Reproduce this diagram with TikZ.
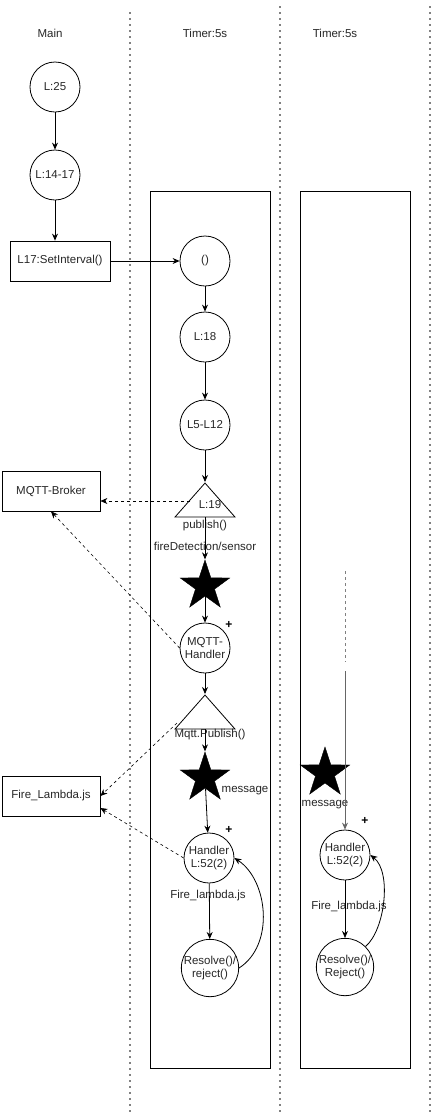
\documentclass[tikz,border=0pt]{standalone}
\usepackage{fontspec}
\setmainfont{Liberation Sans}
\usetikzlibrary{shapes.geometric,arrows.meta}
\begin{document}
\begin{tikzpicture}[x=1pt,y=-1pt,
  every node/.style={font=\fontsize{11.5}{13}\selectfont, text=black!85},
  circ/.style={draw, circle, minimum size=50pt, inner sep=0pt, align=center, line width=0.8pt},
  box/.style={draw, rectangle, minimum width=98pt, minimum height=40pt, inner sep=0pt, line width=0.8pt},
  tri/.style={draw, isosceles triangle, shape border rotate=90, isosceles triangle stretches, minimum width=60pt, minimum height=34pt, inner sep=0pt, anchor=apex, line width=0.8pt},
  starshape/.style={draw, fill=black, star, star points=5, star point ratio=2.6, minimum size=52pt, inner sep=0pt},
  arr/.style={-{Stealth[length=7pt,width=6pt]}, line width=0.8pt},
  darr/.style={-{Stealth[length=7pt,width=6pt]}, line width=0.6pt, dash pattern=on 3pt off 3pt},
  sep/.style={line width=1.6pt, dash pattern=on 0pt off 6pt, line cap=round},
  lbl/.style={inner sep=1pt}]
\useasboundingbox (0,0) rectangle (433,1114);
% separators
\draw[sep] (130,13) -- (130,1114);
\draw[sep] (280,7) -- (280,1114);
\draw[sep] (430,7) -- (430,1114);
% titles
\node[lbl] (tmain) at (50,33) {Main};
\node[lbl] (tt1) at (205,33) {Timer:5s};
\node[lbl] (tt2) at (335,33) {Timer:5s};
% containers
\draw[line width=0.8pt] (150,191) rectangle (270,1068);
\draw[line width=0.8pt] (300,191) rectangle (410,1068);
% main column
\node[circ] (l25) at (55,87) {L:25};
\node[circ] (l14) at (55,175) {L:14-17};
\node[box, minimum width=100pt] (si) at (60,261) {L17:SetInterval()};
\draw[arr] (l25) -- (l14);
\draw[arr] (l14) -- (l14 |- si.north);
% timer column 1
\node[circ] (c0) at (205,261) {()};
\node[circ] (l18) at (205,337) {L:18};
\node[circ] (l5) at (205,425) {L5-L12};
\node[tri] (t19) at (205,482) {};
\node[lbl] (t19l) at (210,505) {L:19};
\node[lbl] (pub) at (205,526) {publish()};
\node[lbl] (fds) at (205,546) {fireDetection/sensor};
\node[starshape] (s1) at (205,586) {};
\node[circ] (mh) at (205,648) {MQTT-\\Handler};
\node[font=\bfseries\fontsize{12}{12}\selectfont, text=black] (p1) at (229,625) {+};
\node[tri] (t2) at (205,694) {};
\node[lbl] (mp) at (210,735) {Mqtt.Publish()};
\node[starshape] (s2) at (205,778) {};
\node[lbl] (msg1) at (245,791) {message};
\node[circ] (h1) at (209,858) {Handler\\L:52(2)};
\node[font=\bfseries\fontsize{12}{12}\selectfont, text=black] (p2) at (229,830) {+};
\node[lbl] (fl1) at (208,896) {Fire\_lambda.js};
\node[circ] (r1) at (210,968) {Resolve()/\\reject()};
\draw[arr] (si) -- (c0);
\draw[arr] (c0) -- (l18);
\draw[arr] (l18) -- (l5);
\draw[arr] (l5) -- (t19.apex);
\draw[arr] (t19.apex |- t19.south) -- (s1.north);
\draw[arr] (s1) -- (mh);
\draw[arr] (mh) -- (t2.apex);
\draw[arr] (t2.apex |- t2.south) -- (s2.north);
\draw[arr] (s2) -- (h1);
\draw[arr] (h1) -- (r1);
\draw[arr] (r1.east) .. controls (275,945) and (268,880) .. (h1.east);
% side boxes
\node[box] (broker) at (51,491) {MQTT-Broker};
\node[box] (fire) at (51,796) {Fire\_Lambda.js};
\coordinate (t19in) at (190,501);
\draw[darr] (t19in) -- (broker.east |- t19in);
\draw[darr] (mh.west) -- (broker.south);
\coordinate (t2in) at (177,723);
\draw[darr] (t2in) -- (fire.east);
\draw[darr] (h1.west) -- ([yshift=-12pt]fire.east);
% timer column 2
\coordinate (g1) at (345,571);
\coordinate (g2) at (345,662);
\coordinate (g3) at (345,671);
\node[circ] (h2) at (345,855) {Handler\\L:52(2)};
\node[font=\bfseries\fontsize{12}{12}\selectfont, text=black] (p3) at (365,821) {+};
\node[starshape] (s3) at (325,773) {};
\node[lbl] (msg2) at (325,805) {message};
\node[lbl] (fl2) at (349,907) {Fire\_lambda.js};
\node[circ] (r2) at (345,967) {Resolve()/\\Reject()};
\draw[gray, line width=0.8pt, dash pattern=on 3pt off 3pt] (g1) -- (g2);
\draw[arr, draw=black!60] (g3) -- (h2.north);
\draw[arr] (h2) -- (r2);
\draw[arr] (r2.north east) .. controls (385,930) and (392,872) .. (h2.east);
\end{tikzpicture}
\end{document}
